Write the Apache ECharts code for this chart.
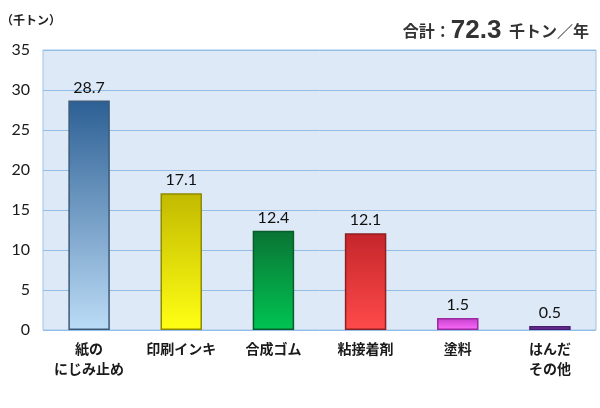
<!DOCTYPE html>
<html>
<head>
<meta charset="utf-8">
<script src="https://cdn.jsdelivr.net/npm/echarts@6/dist/echarts.min.js"></script>
<style>
  html, body { margin: 0; padding: 0; background: #ffffff; }
  #chart { width: 600px; height: 408px; }
</style>
</head>
<body>
<div id="chart"></div>
<script>
// Annual amounts by use (thousand tonnes)
const categories = ['紙の\nにじみ止め', '印刷インキ', '合成ゴム', '粘接着剤', '塗料', 'はんだ\nその他'];
const values = [28.7, 17.1, 12.4, 12.1, 1.5, 0.5];
const yTicks = [0, 5, 10, 15, 20, 25, 30, 35];
const totalValue = '72.3';
const unitLabel = '（千トン）';

// top colour, bottom colour, border colour per bar
const barColors = [
  ['#2c5f94', '#bcdcf6', '#3d5a78'],
  ['#c2ba00', '#ffff14', '#8f8a00'],
  ['#0a7434', '#00c452', '#0a5c2a'],
  ['#c4262b', '#ff4a4a', '#8e2022'],
  ['#c33fc8', '#ff6cff', '#9a2aa0'],
  ['#6a2c98', '#7e3cb0', '#4a1c70']
];

const jpFont = '"Noto Sans CJK JP", "Noto Sans", sans-serif';
const numFont = 'Lato, "Noto Sans", sans-serif';

const chart = echarts.init(document.getElementById('chart'), null, { renderer: 'canvas' });

const data = values.map((v, i) => ({
  value: v,
  itemStyle: {
    color: new echarts.graphic.LinearGradient(0, 0, 0, 1, [
      { offset: 0, color: barColors[i][0] },
      { offset: 1, color: barColors[i][1] }
    ]),
    borderColor: barColors[i][2],
    borderWidth: 1.5
  }
}));

chart.setOption({
  animation: false,
  backgroundColor: '#ffffff',
  title: [
    {
      text: unitLabel,
      left: -4,
      top: 9,
      textStyle: { fontFamily: jpFont, fontSize: 12, fontWeight: 'bold', color: '#222' }
    },
    {
      text: '{a|合計：}{b|' + totalValue + '}{c| 千トン／年}',
      right: 6,
      top: 13,
      textStyle: {
        rich: {
          a: { fontFamily: jpFont, fontSize: 16, fontWeight: 'bold', color: '#333' },
          b: { fontFamily: '"Liberation Sans", Arial, sans-serif', fontSize: 26, fontWeight: 'bold', color: '#333', padding: [0, 4, 0, 0] },
          c: { fontFamily: jpFont, fontSize: 16, fontWeight: 'bold', color: '#333' }
        }
      }
    }
  ],
  grid: {
    left: 43, right: 4, top: 50, bottom: 78,
    show: true,
    backgroundColor: '#dde9f6',
    borderColor: '#9fc5e8',
    borderWidth: 1
  },
  xAxis: {
    type: 'category',
    data: categories,
    axisLine: { show: false },
    axisTick: { show: false },
    axisLabel: {
      interval: 0,
      margin: 9,
      fontFamily: jpFont,
      fontSize: 14,
      fontWeight: 'bold',
      color: '#1a1a1a',
      lineHeight: 20,
      verticalAlign: 'top'
    }
  },
  yAxis: {
    type: 'value',
    min: 0,
    max: 35,
    interval: 5,
    axisLine: { show: false },
    axisTick: { show: false },
    splitLine: { lineStyle: { color: '#92bde6', width: 1 } },
    axisLabel: {
      margin: 13,
      fontFamily: numFont,
      fontSize: 16,
      color: '#1a1a1a',
      formatter: v => (yTicks.includes(v) ? String(v) : '')
    }
  },
  series: [{
    type: 'bar',
    data: data,
    barWidth: '45%',
    label: {
      show: true,
      position: 'top',
      distance: 5,
      fontFamily: numFont,
      fontSize: 16,
      color: '#111',
      formatter: p => p.value.toFixed(1)
    }
  }]
});
</script>
</body>
</html>
